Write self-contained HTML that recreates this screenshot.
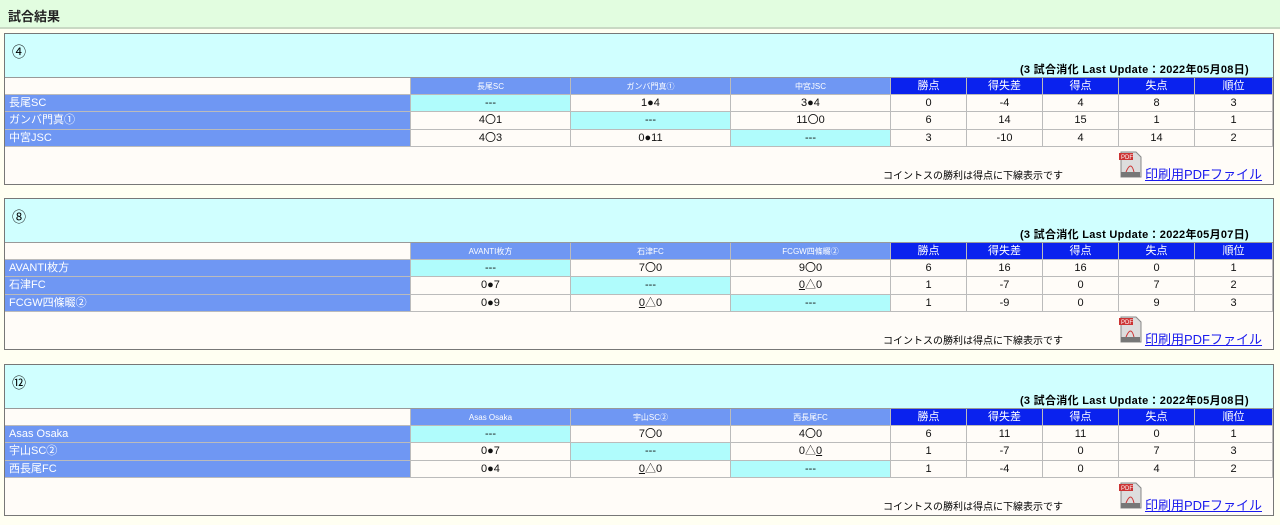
<!DOCTYPE html>
<html><head><meta charset="utf-8">
<style>
body{margin:0;width:1280px;height:525px;background:#fffff2;font-family:"Liberation Sans","Noto Sans CJK JP",sans-serif;position:relative;overflow:hidden}
.hdr{position:absolute;left:0;top:0;width:1280px;height:27px;background:#e2fde0;border-bottom:2px solid #c9d9c4}
.hdr span{position:absolute;left:8px;top:6px;font-size:13px;font-weight:bold;color:#222}
.box{position:absolute;left:4px;width:1268px;height:150px;border:1px solid #777;background:#fffcf8}
.ttl{position:absolute;left:0;top:0;width:1268px;height:43px;background:#d0ffff;border-bottom:1px solid #999}
.ttl .n{position:absolute;left:7px;top:8px;font-size:14px}
.ttl .u{position:absolute;right:24px;top:27px;font-size:11px;font-weight:bold;letter-spacing:0.3px}
.c{position:absolute;height:17px;line-height:17px;font-size:11px;text-align:center;box-sizing:border-box;border-right:1px solid #bbb;border-bottom:1px solid #bbb;color:#111}
.note{position:absolute;left:878px;top:133px;font-size:10px}
.pdf{position:absolute;left:1113px;top:116px;width:26px;height:28px}
.lnk{position:absolute;left:1140px;top:130px;font-size:13px;color:#1a1aee;text-decoration:underline}
</style></head><body>
<div class="hdr"><span>試合結果</span></div>
<div id="root"></div>
<script>
const groupNames=["④","⑧","⑫"];
const groupDates=["2022年05月08日","2022年05月07日","2022年05月08日"];
const teams=[["長尾SC","ガンバ門真①","中宮JSC"],["AVANTI枚方","石津FC","FCGW四條畷②"],["Asas Osaka","宇山SC②","西長尾FC"]];
const results=[
 [["---","1●4","3●4"],["4〇1","---","11〇0"],["4〇3","0●11","---"]],
 [["---","7〇0","9〇0"],["0●7","---","<u>0</u>△0"],["0●9","<u>0</u>△0","---"]],
 [["---","7〇0","4〇0"],["0●7","---","0△<u>0</u>"],["0●4","<u>0</u>△0","---"]]];
const statHeads=["勝点","得失差","得点","失点","順位"];
const stats=[
 [[0,-4,4,8,3],[6,14,15,1,1],[3,-10,4,14,2]],
 [[6,16,16,0,1],[1,-7,0,7,2],[1,-9,0,9,3]],
 [[6,11,11,0,1],[1,-7,0,7,3],[1,-4,0,4,2]]];
const tops=[33,198,364];
const root=document.getElementById('root');
function cell(box,x,y,w,h,html,bg,col,fs,align){
 const d=document.createElement('div');d.className='c';
 d.style.left=x+'px';d.style.top=y+'px';d.style.width=w+'px';d.style.height=h+'px';d.style.lineHeight=h+'px';
 d.style.background=bg;if(col)d.style.color=col;if(fs)d.style.fontSize=fs+'px';
 if(align){d.style.textAlign='left';d.style.paddingLeft='4px';}
 d.innerHTML=html;box.appendChild(d);return d;}
groupNames.forEach((g,gi)=>{
 const box=document.createElement('div');box.className='box';box.style.top=tops[gi]+'px';
 
 
 root.appendChild(box);
 const t=document.createElement('div');t.className='ttl';
 t.innerHTML='<div class="n">'+g+'</div><div class="u">(3 試合消化 Last Update：'+groupDates[gi]+')</div>';
 
 
 box.appendChild(t);
 const hy=44;
 let d=cell(box,0,hy,406,17,'','#fffcf8');
 
 
 teams[gi].forEach((tm,i)=>{
  d=cell(box,406+i*160,hy,160,17,tm,'#6f97f3','#fff',8);
  
  
 });
 statHeads.forEach((s,i)=>{
  d=cell(box,886+i*76,hy,i==4?78:76,17,s,'#0a22ee','#fff',11);
  
  
 });
 teams[gi].forEach((tm,r)=>{
  const y=hy+17+r*17.3;
  d=cell(box,0,y,406,17.3,tm,'#6f97f3','#fff',11,true);
  
  
  results[gi][r].forEach((v,c)=>{
   d=cell(box,406+c*160,y,160,17.3,v,r==c?'#b0fcfc':'#fffcf8');
   
   
  });
  stats[gi][r].forEach((v,c)=>{
   d=cell(box,886+c*76,y,c==4?78:76,17.3,String(v),'#fffcf8');
   
   
  });
 });
 const n=document.createElement('div');n.className='note';n.textContent='コイントスの勝利は得点に下線表示です';
 
 
 box.appendChild(n);
 const p=document.createElement('div');p.className='pdf';
 p.innerHTML='<svg width="26" height="28"><path d="M3 2h15l5 5v20H3z" fill="#ddd" stroke="#888"/><rect x="1" y="3" width="14" height="7" fill="#c33"/><text x="3" y="9" font-size="6" fill="#fff" font-family="Liberation Sans">PDF</text><path d="M8 22q5-12 8 0" stroke="#c33" fill="none"/><rect x="3" y="22" width="19" height="5" fill="#777"/></svg>';
 
 
 box.appendChild(p);
 const a=document.createElement('a');a.className='lnk';a.textContent='印刷用PDFファイル';
 
 
 box.appendChild(a);
});
</script>
</body></html>
